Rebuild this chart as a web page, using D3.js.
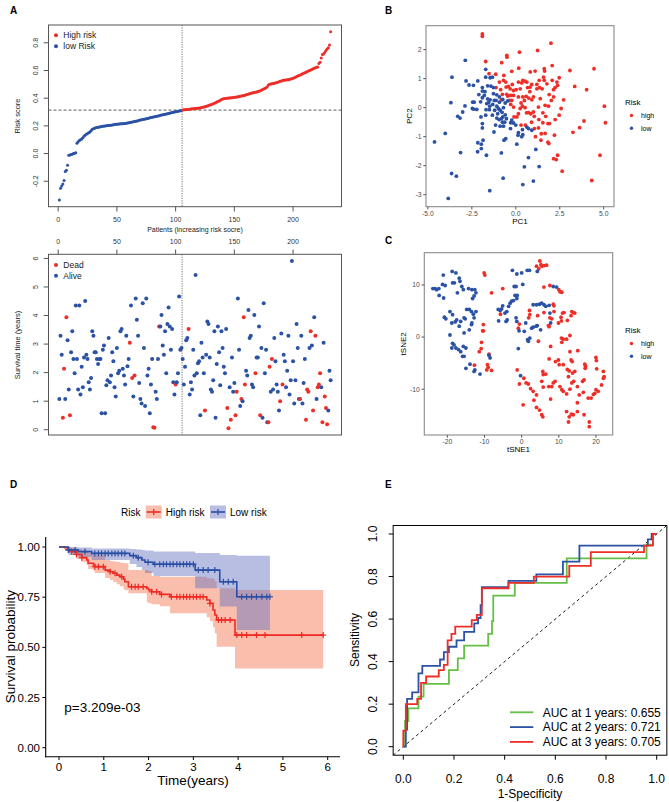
<!DOCTYPE html>
<meta charset="utf-8">
<head>
<style>
body { margin: 0; background: #fff; }
svg { display: block; font-family: "Liberation Sans", Arial, Helvetica, sans-serif; }
.plab { font-weight: bold; font-size: 10px; }
</style>
<script src="https://d3js.org/d3.v7.min.js"></script>
</head>
<body>
<svg width="669" height="802"></svg>
<script>

// ---- data: panel A (patients sorted by risk score) ----
var riskScore = [
-0.335,-0.25,-0.235,-0.22,-0.195,-0.13,-0.12,-0.085,-0.012,-0.01,
-0.007,-0.004,0.0,0.003,0.006,0.075,0.085,0.095,0.1,0.105,
0.115,0.125,0.135,0.14,0.145,0.15,0.155,0.165,0.175,0.18,
0.183,0.186,0.188,0.19,0.192,0.194,0.196,0.198,0.199,0.2,
0.201,0.202,0.203,0.204,0.205,0.207,0.208,0.21,0.211,0.212,
0.213,0.214,0.215,0.216,0.216,0.217,0.218,0.219,0.22,0.222,
0.224,0.226,0.228,0.23,0.232,0.234,0.236,0.238,0.24,0.242,
0.244,0.246,0.248,0.25,0.252,0.254,0.256,0.258,0.26,0.262,
0.264,0.266,0.268,0.27,0.272,0.274,0.276,0.278,0.28,0.282,
0.284,0.286,0.288,0.29,0.292,0.294,0.296,0.298,0.3,0.302,
0.304,0.306,0.308,0.31,0.312,
0.315,0.316,0.317,0.318,0.319,0.32,0.321,0.322,0.323,0.324,
0.325,0.326,0.327,0.328,0.329,0.33,0.332,0.334,0.336,0.338,
0.341,0.344,0.347,0.35,0.353,0.356,0.36,0.364,0.368,0.372,
0.376,0.38,0.385,0.39,0.394,0.396,0.398,0.399,0.4,0.401,
0.402,0.403,0.404,0.405,0.406,0.407,0.408,0.41,0.412,0.414,
0.416,0.418,0.42,0.422,0.424,0.427,0.43,0.432,0.435,0.437,
0.439,0.441,0.443,0.445,0.448,0.451,0.454,0.458,0.462,0.466,
0.47,0.476,0.482,0.496,0.5,0.502,0.504,0.506,0.508,0.51,
0.513,0.516,0.519,0.522,0.525,0.527,0.529,0.531,0.532,0.533,
0.534,0.536,0.538,0.54,0.544,0.548,0.552,0.556,0.56,0.564,
0.568,0.572,0.576,0.58,0.584,0.588,0.592,0.596,0.6,0.604,
0.608,0.612,0.616,0.62,0.624,0.626,0.65,0.66,0.69,0.715,
0.72,0.73,0.745,0.755,0.765,0.785,0.88];
var cutoff = 0.314;

var survTime = [
1.08,3.29,2.63,0.42,2.14,1.08,3.94,3.13,1.41,0.51,
2.71,3.45,2.48,1.98,4.35,2.48,1.41,4.35,1.23,2.21,
1.49,2.53,4.51,2.63,2.48,1.66,1.41,1.81,3.45,3.29,
2.71,2.71,2.48,2.3,2.48,2.48,0.58,2.8,2.95,0.58,
1.56,1.73,3.21,1.66,1.9,2.71,2.4,1.49,1.16,2.86,
1.98,2.07,3.45,3.53,2.14,1.9,1.58,3.29,2.22,2.48,
3.05,4.35,1.81,1.16,1.9,4.6,3.85,3.29,1.64,1.08,
0.92,4.43,2.86,0.83,4.6,1.9,2.14,0.58,1.58,2.48,
0.09,0.07,1.33,1.08,2.48,3.62,3.62,4.02,2.95,2.63,
3.45,1.98,3.7,4.28,3.62,2.8,3.53,1.66,1.23,1.58,
1.66,1.98,4.67,2.8,2.86,
2.48,1.58,2.21,3.13,3.21,3.53,1.23,1.66,1.41,2.8,
1.9,5.42,1.98,2.33,2.4,0.51,3.05,2.53,1.98,0.67,
2.63,3.79,3.7,2.53,1.41,1.33,1.73,3.45,0.42,2.3,
3.62,2.71,1.56,3.45,2.86,2.21,1.98,3.53,0.76,0.05,
1.49,0.35,2.53,1.33,1.64,0.51,1.33,4.6,2.8,0.83,
1.08,1.0,3.94,1.58,2.07,1.9,4.19,3.21,3.29,1.58,
1.49,4.02,1.98,2.53,2.53,3.62,0.51,2.86,0.42,4.43,
1.98,2.8,0.26,0.26,2.21,1.33,2.48,1.41,3.21,2.4,
1.58,1.33,0.67,1.0,3.37,1.58,2.63,2.4,1.49,2.07,
3.29,1.23,1.73,5.91,2.4,0.92,1.73,3.7,2.86,1.08,
1.08,3.29,0.92,1.64,2.48,0.35,1.41,1.33,2.86,3.45,
2.95,0.67,3.94,3.29,1.08,1.49,1.58,1.98,1.49,0.26,
3.05,1.16,0.76,0.19,0.67,2.07,1.73];

// 1 = dead, 0 = alive
var survStatus = [
0,0,0,1,1,0,1,0,0,1, 0,0,0,0,0,0,0,0,0,0, 0,0,0,0,0,0,0,0,0,0,
0,0,0,0,0,0,0,0,0,0, 0,0,0,0,0,0,0,0,0,0, 0,0,0,0,0,0,0,0,0,0,
1,0,1,0,1,0,0,0,0,0, 0,0,0,0,0,0,0,0,0,0, 1,1,0,0,0,1,0,0,0,0,
0,0,0,0,0,0,0,0,0,1, 0,0,0,0,0,
0,0,0,0,0,1,0,0,0,0, 0,0,0,0,0,0,0,0,0,1, 0,0,0,0,0,0,0,0,0,0,
0,0,0,0,0,0,0,0,1,1, 0,1,0,0,0,1,1,0,0,0, 1,0,1,1,0,0,0,0,0,0,
0,0,1,0,0,0,1,0,0,0, 0,0,0,1,1,0,1,0,0,0, 0,0,0,1,0,1,0,0,0,0,
0,0,0,0,0,0,0,0,0,0, 1,0,0,0,0,1,1,1,0,1, 0,1,0,1,0,1,1,1,0,1,
0,1,1,1,0,0,0];

// ---- data: panel B (PCA) ----
var pcaHigh = [
[-1.9,2.54],[-1.9,2.46],[-1.71,1.59],[-1.52,1.17],[-1.14,1.15],[-0.8,1.55],[-0.68,1.11],[-0.51,1.8],[-0.5,1.74],[-0.23,1.25],
[0.21,1.91],[0.17,1.36],[0.82,1.23],[1.1,1.26],[1.24,1.97],[1.62,1.34],[1.64,1.26],[2.0,2.22],[2.07,1.45],[2.47,1.03],
[3.08,1.28],[3.35,0.73],[4.03,0.62],[4.45,1.34],[5.04,0.05],[5.1,-0.52],[3.88,-0.46],[3.63,-0.69],[3.25,-0.85],[4.79,-1.64],
[4.32,-2.51],[2.64,-2.19],[2.38,-1.64],[2.3,-1.79],[2.15,-1.76],[1.88,-1.24],[1.83,-1.19],[1.67,-0.89],[1.43,-1.12],[1.12,-1.0],
[1.06,-0.72],[1.29,-0.7],[1.54,-0.52],[1.83,-0.55],[1.92,-0.55],[1.31,-0.41],[1.54,-0.18],[1.67,0.08],[2.02,0.25],[2.72,0.27],
[2.58,-0.03],[2.47,-0.26],[2.24,-0.41],[1.86,0.05],[2.15,0.37],[2.15,0.62],[2.24,0.69],[2.38,0.77],[2.34,0.88],[2.07,0.94],
[1.77,0.82],[1.5,0.65],[1.35,0.69],[1.2,0.65],[1.58,1.05],[1.62,0.94],[1.33,0.94],[1.2,0.8],[0.91,0.8],[0.82,0.71],
[0.67,0.69],[0.63,0.88],[0.53,0.91],[0.4,0.94],[0.34,0.85],[0.15,0.88],[0.25,0.65],[0.02,0.62],[-0.13,0.59],[-0.32,0.65],
[-0.42,0.73],[-0.57,0.88],[-0.7,0.94],[-0.86,0.62],[-0.76,0.46],[-0.51,0.46],[-0.29,0.42],[-0.13,0.42],[0.15,0.37],[0.4,0.37],
[0.49,0.25],[0.59,0.39],[0.74,0.33],[0.91,0.27],[1.0,0.37],[1.39,0.31],[1.29,0.02],[1.0,-0.15],[0.85,-0.21],[0.72,-0.17],
[0.61,-0.18],[0.53,0.0],[0.38,0.05],[0.25,-0.03],[0.15,-0.21],[0.06,-0.32],[-0.1,-0.32],[-0.13,0.02],[-0.29,0.11],[-0.23,0.25],
[-0.36,0.25],[-0.46,0.4],[-0.55,0.71],[-0.93,0.88],[-1.12,0.69],[-0.82,0.27],[0.3,0.16],[0.3,-0.6],[0.55,-0.6],[0.9,-0.5],
[1.05,-0.3],[1.45,-0.9],[2.2,-0.95],[1.7,-0.3],[0.8,0.55],[1.9,0.45],[-0.2,0.8]];
var pcaLow = [
[-2.87,1.63],[-3.63,1.05],[-3.69,0.17],[-4.62,-1.18],[-4.01,-0.89],[-3.65,-2.27],[-3.38,-2.36],[-3.84,-3.13],[-3.14,-1.55],[-3.17,-0.36],
[-3.02,-0.15],[-2.89,0.06],[-2.83,0.92],[-2.66,0.78],[-2.41,0.77],[-2.16,0.92],[-2.45,0.19],[-2.37,0.19],[-2.47,-0.03],[-2.22,-0.06],
[-2.16,-1.21],[-2.17,-1.52],[-1.96,-1.26],[-1.96,-1.41],[-1.98,-0.32],[-1.9,-0.55],[-1.9,-0.7],[-1.71,-0.26],[-1.71,1.05],[-1.71,1.32],
[-1.9,0.69],[-1.9,0.57],[-1.79,0.42],[-1.9,0.34],[-1.6,0.3],[-1.54,0.18],[-1.48,0.05],[-1.31,0.11],[-1.22,0.25],[-1.46,0.27],
[-1.65,0.14],[-1.69,-0.07],[-1.5,-0.07],[-1.33,-0.26],[-1.08,-0.36],[-0.95,-0.41],[-1.03,-0.21],[-0.89,-0.09],[-0.78,-0.16],[-0.74,-0.32],
[-0.82,-0.38],[-0.76,-0.5],[-0.63,-0.5],[-0.53,-0.38],[-0.7,0.0],[-0.6,0.16],[-0.46,0.23],[-0.74,0.28],[-0.93,0.19],[-1.12,0.25],
[-1.08,0.05],[-1.27,0.69],[-1.41,0.74],[-1.27,0.48],[-1.08,0.44],[-0.93,0.37],[-1.46,1.03],[-1.33,1.05],[-0.99,-0.03],[-1.2,-0.09],
[-1.24,-0.84],[-0.89,-0.64],[-0.7,-0.64],[-0.57,-1.07],[-0.67,-1.12],[-0.82,-1.56],[-0.72,-2.43],[0.06,-1.26],[0.15,-0.86],[0.13,-0.95],
[0.34,-1.0],[0.4,-0.93],[0.72,-0.72],[0.91,-0.78],[0.63,-0.67],[0.38,-0.76],[-0.23,-0.43],[-0.13,-0.53],[-0.3,-0.72],[-0.29,-0.52],
[0.0,-0.6],[0.49,-2.04],[0.4,-2.65],[1.0,-2.53],[1.33,-2.03],[0.72,-1.72],[1.14,-1.44],[-1.48,-2.86],[-1.67,-1.64],[-1.86,-1.12],
[-2.4,-0.05],[-3.3,-0.3],[-2.1,0.45],[-1.6,0.75],[-0.6,-0.25],[-1.15,-0.6],[-2.0,0.2],[-1.75,0.55]];

// ---- data: panel C (tSNE) ----
var tsneLow = [
[-23.9,9.3],[-23.3,9.3],[-22.9,9.1],[-22.3,9.3],[-21.3,10.1],[-21.1,11.9],[-20.6,9.9],[-22.2,8.0],[-21.0,7.5],[-18.7,12.6],
[-17.7,12.3],[-18.1,10.4],[-18.6,10.4],[-16.8,11.3],[-16.6,10.7],[-16.1,9.7],[-15.7,9.1],[-14.3,9.3],[-13.4,9.1],[-12.6,9.1],
[-12.3,8.5],[-12.8,7.9],[-13.2,7.4],[-17.3,8.5],
[-20.8,3.8],[-20.4,3.5],[-19.3,4.9],[-18.6,4.3],[-18.8,2.7],[-17.9,2.9],[-17.5,3.3],[-16.8,2.1],[-16.4,3.0],[-15.5,3.7],
[-15.2,3.5],[-14.8,5.3],[-14.1,5.3],[-13.5,4.9],[-13.0,4.4],[-12.8,3.7],[-12.3,4.9],[-13.4,2.7],[-14.1,1.4],[-15.5,0.8],
[-19.3,0.4],[-18.6,-1.2],[-18.2,-1.5],[-17.7,-2.1],[-17.0,-2.4],[-16.4,-2.8],[-15.9,-3.7],[-15.5,-3.7],[-15.0,-2.1],[-15.7,-1.8],
[-13.9,-5.2],[-15.0,-6.0],[-12.8,-6.6],[-12.6,-6.3],[-11.2,-7.1],[-8.5,-4.0],[-8.8,-3.5],[-18.8,-2.1],[-13.5,2.4],
[-6.3,5.3],[-5.8,5.1],[-5.1,6.0],[-5.4,5.4],[-4.5,4.6],[-4.2,3.0],[-3.9,3.3],[-6.2,3.1],[-4.0,4.9],[-3.5,5.9],
[-3.1,6.5],[-2.7,6.9],[-2.2,7.0],[-1.8,8.0],[-1.3,7.4],[-1.2,8.0],[-2.0,9.7],[-1.5,9.7],[0.3,10.1],[-2.5,12.8],
[-1.3,12.1],[0.0,12.3],[1.5,12.8],[2.1,12.8],[4.2,12.6],
[-1.5,3.7],[-1.3,3.0],[-0.7,1.2],[0.7,1.1],[1.1,2.7],[-0.9,-2.2],[-0.3,-7.4],[1.6,-0.5],[1.8,-0.8],[2.2,-0.2],
[2.7,1.7],[3.1,1.9],[3.9,2.1],[4.2,2.2],[5.1,1.4],[7.8,2.7],[4.0,6.2],[4.8,6.3],[5.4,6.5],[6.0,6.2],
[7.4,6.1],[7.6,4.6],[6.5,5.9],[8.5,9.7],[9.4,9.6],[3.1,6.2]];
var tsneHigh = [
[-10.1,12.3],[-9.9,11.9],[-8.1,8.5],[-5.1,9.3],[-5.7,4.4],[-0.6,2.5],[-0.9,1.7],[1.9,3.7],[2.2,4.3],[2.1,5.1],
[4.3,4.1],[6.0,9.6],[7.6,9.9],[10.0,9.1],[10.3,8.7],[10.8,8.6],[8.5,6.3],[8.7,6.0],[8.7,4.9],[7.6,3.7],
[7.2,2.2],[7.4,2.0],[6.0,4.7],[8.1,3.5],[11.0,4.6],[11.4,4.7],[13.5,4.9],[13.9,4.7],[14.3,4.6],[12.3,3.2],
[13.3,4.1],[10.6,3.8],[10.7,3.1],[9.9,2.7],[13.0,0.3],[10.7,-0.2],[11.2,-0.4],[12.1,-0.4],[10.8,-1.0],[7.8,-1.8],
[4.5,-0.8],[15.1,-2.6],[13.0,-2.8],[13.3,-4.4],[13.6,-4.7],[12.8,-6.5],[12.3,-6.2],[12.6,-7.6],[13.7,-6.9],[9.9,-4.4],
[9.1,-4.7],[7.4,-4.2],[10.3,-9.5],[11.2,-10.4],[10.8,-10.1],[12.1,-10.9],[13.0,-10.0],[13.5,-8.8],[14.0,-8.5],[15.5,-11.1],
[15.0,-12.6],[16.6,-10.6],[16.4,-8.5],[16.8,-8.2],[17.0,-5.2],[17.2,-5.6],[17.1,-6.0],[17.9,-11.7],[18.7,-11.7],[20.0,-3.9],
[20.1,-4.5],[20.2,-6.1],[20.0,-10.1],[19.7,-10.8],[19.3,-11.0],[20.6,-10.4],[21.5,-9.2],[22.0,-6.6],[22.2,-7.6],[22.0,-7.9],
[12.1,-14.3],[12.6,-16.3],[12.8,-15.3],[13.4,-14.8],[13.9,-14.9],[15.0,-14.3],[16.8,-14.9],[18.2,-16.3],[18.2,-17.2],[5.7,-6.6],
[5.8,-7.2],[5.4,-8.5],[5.8,-9.6],[5.4,-14.9],[5.7,-15.3],[4.8,-14.0],[4.0,-13.5],[4.0,-11.1],[3.3,-12.1],[3.1,-10.4],
[2.4,-9.9],[1.8,-9.0],[1.2,-8.8],[0.6,-7.9],[-1.2,-6.3],[-0.6,-9.0],[0.4,-13.0],[7.8,-11.9],[8.1,-9.5],[7.3,-9.5],
[8.5,-8.8],[9.0,-8.5],[10.1,-5.3],[11.2,-5.3],[15.0,-9.5],[14.3,-6.6],[-10.3,2.4],[-10.5,1.2],[-10.3,1.2],[-10.8,-1.0],
[-10.9,-2.2],[-11.4,-2.8],[-8.8,-3.3],[-9.2,-5.3],[-9.0,-5.8],[-9.4,-6.3],[-8.1,-6.4],[-12.7,-5.4],[4.9,14.6],[5.2,13.9],
[5.4,13.6],[6.0,13.7],[6.7,13.8],[4.0,13.6],[4.6,13.1],[6.5,-7.1]];

// ---- data: panel D (Kaplan-Meier) ----
var kmHighTime  = [0,0.13,0.21,0.28,0.39,0.51,0.62,0.65,0.77,0.80,1.03,1.14,1.21,1.29,1.36,1.44,1.47,1.55,1.96,2.0,2.07,2.25,2.48,3.30,3.37,3.44,3.48,3.52,3.93];
var kmHighSurv  = [1,0.997,0.985,0.977,0.963,0.947,0.935,0.919,0.91,0.902,0.885,0.877,0.869,0.86,0.852,0.84,0.827,0.802,0.794,0.786,0.777,0.764,0.752,0.736,0.719,0.686,0.661,0.636,0.561];
var kmHighLower = [1,0.985,0.97,0.96,0.94,0.925,0.91,0.89,0.88,0.87,0.845,0.835,0.825,0.815,0.805,0.79,0.785,0.77,0.725,0.72,0.715,0.705,0.67,0.65,0.63,0.6,0.57,0.503,0.395];
var kmHighUpper = [1,1,1,0.995,0.99,0.985,0.98,0.97,0.965,0.96,0.935,0.93,0.928,0.925,0.922,0.92,0.919,0.885,0.885,0.88,0.855,0.852,0.852,0.844,0.844,0.84,0.83,0.794,0.786];
var kmHighEnd = 5.9;
var kmHighCens = [0.21,0.28,0.39,0.51,0.80,0.88,0.99,1.14,1.25,1.40,1.62,1.70,1.77,1.88,2.07,2.18,2.29,2.51,2.63,2.70,2.78,2.85,2.92,3.0,3.07,3.15,3.22,3.37,3.56,3.63,3.71,3.82,3.97,4.08,4.19,4.41,4.60,5.42,5.90];

var kmLowTime  = [0,0.21,0.43,0.73,1.58,1.73,1.85,1.92,2.11,3.04,3.59,3.97];
var kmLowSurv  = [1,0.985,0.977,0.968,0.957,0.947,0.935,0.924,0.914,0.885,0.827,0.752];
var kmLowLower = [1,0.96,0.95,0.935,0.915,0.9,0.885,0.87,0.855,0.794,0.703,0.586];
var kmLowUpper = [1,1,0.997,0.993,0.99,0.988,0.985,0.982,0.978,0.97,0.96,0.957];
var kmLowEnd = 4.71;
var kmLowCens = [0.21,0.36,0.58,0.80,0.88,0.95,1.03,1.10,1.18,1.25,1.32,1.40,1.47,1.66,1.77,1.99,2.14,2.25,2.33,2.40,2.48,2.55,2.63,2.70,2.78,2.85,2.92,3.0,3.11,3.22,3.33,3.48,3.67,3.78,3.89,4.08,4.19,4.30,4.41,4.53,4.64,4.71];
var pValue = "p=3.209e-03";

// ---- data: panel E (time-dependent ROC, [1-specificity, sensitivity]) ----
var roc1 = [[0,0],[0.007,0.12],[0.02,0.18],[0.06,0.235],[0.08,0.295],[0.18,0.36],[0.215,0.415],[0.24,0.475],[0.335,0.53],[0.35,0.59],[0.355,0.71],[0.44,0.77],[0.645,0.885],[0.96,0.95],[0.985,1],[1,1]];
var roc2 = [[0,0],[0.01,0.08],[0.015,0.225],[0.035,0.255],[0.06,0.345],[0.075,0.38],[0.145,0.41],[0.16,0.445],[0.18,0.47],[0.21,0.5],[0.24,0.54],[0.28,0.58],[0.295,0.605],[0.305,0.665],[0.31,0.75],[0.415,0.78],[0.525,0.81],[0.63,0.87],[0.695,0.945],[0.965,0.975],[0.98,1],[1,1]];
var roc3 = [[0,0],[0,0.075],[0.01,0.2],[0.055,0.225],[0.07,0.3],[0.09,0.33],[0.14,0.36],[0.16,0.385],[0.175,0.5],[0.19,0.53],[0.205,0.565],[0.27,0.595],[0.29,0.62],[0.31,0.745],[0.415,0.77],[0.515,0.8],[0.655,0.85],[0.74,0.915],[0.95,0.945],[0.985,1],[1,1]];
var rocLabels = ["AUC at 1 years: 0.655", "AUC at 2 years: 0.721", "AUC at 3 years: 0.705"];

var red = "#EE2E27", blue = "#2B52A4", green = "#66BE48";
var svg = d3.select("svg");

function vtext(x, y, txt, size, color) {
  return svg.append("text")
    .attr("transform", "translate(" + x + "," + y + ") rotate(-90)")
    .attr("text-anchor", "middle").attr("dy", "0.35em")
    .attr("font-size", size).attr("fill", color || "#000").text(txt);
}
function htext(x, y, txt, size, anchor, color) {
  return svg.append("text").attr("x", x).attr("y", y).attr("dy", "0.35em")
    .attr("text-anchor", anchor || "middle")
    .attr("font-size", size).attr("fill", color || "#000").text(txt);
}

// ================= Panel A =================
var n = riskScore.length;
var nLow = riskScore.filter(function(v) { return v <= cutoff; }).length;
var pad = 0.04 * (n - 1);
var xA = d3.scaleLinear().domain([1 - pad, n + pad]).range([48.5, 341.5]);
var rExt = d3.extent(riskScore), rPad = 0.04 * (rExt[1] - rExt[0]);
var yA = d3.scaleLinear().domain([rExt[0] - rPad, rExt[1] + rPad]).range([206.7, 25]);
var tExt = d3.extent(survTime), tPad = 0.04 * (tExt[1] - tExt[0]);
var yS = d3.scaleLinear().domain([tExt[0] - tPad, tExt[1] + tPad]).range([435, 254.3]);

svg.append("text").attr("class", "plab").attr("x", 10).attr("y", 14).text("A");

// top: risk score
svg.append("line").attr("x1", 48.5).attr("x2", 341.5).attr("y1", yA(cutoff)).attr("y2", yA(cutoff))
  .attr("stroke", "#333").attr("stroke-dasharray", "3,2").attr("stroke-width", 0.8);
svg.append("line").attr("x1", xA(nLow + 0.5)).attr("x2", xA(nLow + 0.5)).attr("y1", 25).attr("y2", 206.7)
  .attr("stroke", "#777").attr("stroke-dasharray", "1.2,1.2").attr("stroke-width", 1);
svg.append("g").selectAll("circle").data(riskScore).enter().append("circle")
  .attr("cx", function(d, i) { return xA(i + 1); })
  .attr("cy", function(d) { return yA(d); })
  .attr("r", 1.5)
  .attr("fill", function(d, i) { return i < nLow ? blue : red; });
svg.append("rect").attr("x", 48.5).attr("y", 25).attr("width", 293).attr("height", 181.7)
  .attr("fill", "none").attr("stroke", "#555");

[0, 50, 100, 150, 200].forEach(function(t) {
  svg.append("line").attr("x1", xA(t)).attr("x2", xA(t)).attr("y1", 206.7).attr("y2", 211.5).attr("stroke", "#555");
  htext(xA(t), 220, t, 7, "middle", "#333");
  svg.append("line").attr("x1", xA(t)).attr("x2", xA(t)).attr("y1", 254.3).attr("y2", 249.5).attr("stroke", "#555");
  htext(xA(t), 242, t, 7, "middle", "#333");
});
[-0.2, 0, 0.2, 0.4, 0.6, 0.8].forEach(function(v) {
  svg.append("line").attr("x1", 48.5).attr("x2", 43.7).attr("y1", yA(v)).attr("y2", yA(v)).attr("stroke", "#555");
  vtext(35.3, yA(v), v.toFixed(1), 7, "#333");
});
htext(195, 230, "Patients (increasing risk socre)", 7, "middle", "#222");
vtext(17.3, 116, "Risk score", 7.5, "#222");

var legA = [["High risk", red], ["low Risk", blue]];
legA.forEach(function(l, i) {
  svg.append("circle").attr("cx", 56).attr("cy", 35.3 + i * 11).attr("r", 2).attr("fill", l[1]);
  htext(63.3, 35.3 + i * 11, l[0], 8.5, "start", "#222");
});

// bottom: survival time
svg.append("line").attr("x1", xA(nLow + 0.5)).attr("x2", xA(nLow + 0.5)).attr("y1", 254.3).attr("y2", 435)
  .attr("stroke", "#777").attr("stroke-dasharray", "1.2,1.2").attr("stroke-width", 1);
svg.append("g").selectAll("circle").data(survTime).enter().append("circle")
  .attr("cx", function(d, i) { return xA(i + 1); })
  .attr("cy", function(d) { return yS(d); })
  .attr("r", 2)
  .attr("fill", function(d, i) { return survStatus[i] === 1 ? red : blue; });
svg.append("rect").attr("x", 48.5).attr("y", 254.3).attr("width", 293).attr("height", 180.7)
  .attr("fill", "none").attr("stroke", "#555");
[0, 1, 2, 3, 4, 5, 6].forEach(function(v) {
  svg.append("line").attr("x1", 48.5).attr("x2", 43.7).attr("y1", yS(v)).attr("y2", yS(v)).attr("stroke", "#555");
  vtext(35.3, yS(v), v, 7, "#333");
});
vtext(17.3, 345, "Survival time (years)", 7.5, "#222");
var legS = [["Dead", red], ["Alive", blue]];
legS.forEach(function(l, i) {
  svg.append("circle").attr("cx", 56).attr("cy", 265 + i * 10.7).attr("r", 2).attr("fill", l[1]);
  htext(63.3, 265 + i * 10.7, l[0], 8.5, "start", "#222");
});

// ================= Panels B and C (ggplot style) =================
function expand(vals) {
  var e = d3.extent(vals), p = 0.05 * (e[1] - e[0]);
  return [e[0] - p, e[1] + p];
}
function scatterPanel(opt) {
  var all = opt.high.concat(opt.low);
  var x = d3.scaleLinear().domain(expand(all.map(function(d) { return d[0]; }))).range([opt.x0, opt.x1]);
  var y = d3.scaleLinear().domain(expand(all.map(function(d) { return d[1]; }))).range([opt.y1, opt.y0]);
  var g = svg.append("g");
  g.selectAll(".hi").data(opt.high).enter().append("circle")
    .attr("cx", function(d) { return x(d[0]); }).attr("cy", function(d) { return y(d[1]); })
    .attr("r", 1.9).attr("fill", red);
  g.selectAll(".lo").data(opt.low).enter().append("circle")
    .attr("cx", function(d) { return x(d[0]); }).attr("cy", function(d) { return y(d[1]); })
    .attr("r", 1.9).attr("fill", blue);
  svg.append("rect").attr("x", opt.x0).attr("y", opt.y0).attr("width", opt.x1 - opt.x0).attr("height", opt.y1 - opt.y0)
    .attr("fill", "none").attr("stroke", "#8a8a8a").attr("stroke-width", 1.1);
  opt.xt.forEach(function(t) {
    svg.append("line").attr("x1", x(t)).attr("x2", x(t)).attr("y1", opt.y1).attr("y2", opt.y1 + 2.7).attr("stroke", "#555");
    htext(x(t), opt.y1 + 6.5, opt.xfmt(t), 6.8, "middle", "#4d4d4d");
  });
  opt.yt.forEach(function(t) {
    svg.append("line").attr("x1", opt.x0).attr("x2", opt.x0 - 2.7).attr("y1", y(t)).attr("y2", y(t)).attr("stroke", "#555");
    htext(opt.x0 - 4.5, y(t), opt.yfmt(t), 6.8, "end", "#4d4d4d");
  });
  htext((opt.x0 + opt.x1) / 2, opt.y1 + 14.3, opt.xlab, 8, "middle");
  vtext(opt.ylabX, (opt.y0 + opt.y1) / 2, opt.ylab, 8);
  // legend
  htext(625, opt.legY, "Risk", 8, "start");
  [["high", red], ["low", blue]].forEach(function(l, i) {
    svg.append("circle").attr("cx", 631.5).attr("cy", opt.legY + 13.5 + i * 12.8).attr("r", 1.7).attr("fill", l[1]);
    htext(641, opt.legY + 13.5 + i * 12.8, l[0], 7, "start");
  });
  svg.append("text").attr("class", "plab").attr("x", 385).attr("y", opt.labY).text(opt.label);
}

scatterPanel({
  high: pcaHigh, low: pcaLow, x0: 426, x1: 614, y0: 25.7, y1: 206.7,
  xt: [-5, -2.5, 0, 2.5, 5], yt: [-3, -2, -1, 0, 1, 2],
  xfmt: function(t) { return t.toFixed(1); },
  yfmt: function(t) { return String(t); },
  xlab: "PC1", ylab: "PC2", ylabX: 409, legY: 102, labY: 14, label: "B"
});
scatterPanel({
  high: tsneHigh, low: tsneLow, x0: 424.3, x1: 612.7, y0: 252.7, y1: 435,
  xt: [-20, -10, 0, 10, 20], yt: [-10, 0, 10],
  xfmt: function(t) { return String(t); },
  yfmt: function(t) { return String(t); },
  xlab: "tSNE1", ylab: "tSNE2", ylabX: 403.3, legY: 330, labY: 244, label: "C"
});

// ================= Panel D (Kaplan-Meier) =================
svg.append("text").attr("class", "plab").attr("x", 10).attr("y", 488.3).text("D");
var xD = d3.scaleLinear().domain([0, 6]).range([59, 327.7]);
var yD = d3.scaleLinear().domain([0, 1]).range([747.7, 547]);

function kmSeries(time, surv, lower, upper, end, cens, lineCol, bandCol) {
  var pts = time.map(function(t, i) { return { t: t, s: surv[i], lo: lower[i], up: upper[i] }; });
  pts.push({ t: end, s: surv[surv.length - 1], lo: lower[lower.length - 1], up: upper[upper.length - 1] });
  var area = d3.area().curve(d3.curveStepAfter)
    .x(function(d) { return xD(d.t); }).y0(function(d) { return yD(d.lo); }).y1(function(d) { return yD(d.up); });
  var line = d3.line().curve(d3.curveStepAfter)
    .x(function(d) { return xD(d.t); }).y(function(d) { return yD(d.s); });
  return { pts: pts, area: area, line: line, cens: cens, time: time, surv: surv, lineCol: lineCol, bandCol: bandCol };
}
var kmH = kmSeries(kmHighTime, kmHighSurv, kmHighLower, kmHighUpper, kmHighEnd, kmHighCens, "#EE2A24", "rgba(242,110,70,0.45)");
var kmL = kmSeries(kmLowTime, kmLowSurv, kmLowLower, kmLowUpper, kmLowEnd, kmLowCens, "#2A4EA3", "rgba(95,110,190,0.45)");
[kmH, kmL].forEach(function(k) {
  svg.append("path").attr("d", k.area(k.pts)).attr("fill", k.bandCol);
});
[kmH, kmL].forEach(function(k) {
  svg.append("path").attr("d", k.line(k.pts)).attr("fill", "none").attr("stroke", k.lineCol).attr("stroke-width", 1.6);
  k.cens.forEach(function(t) {
    var s = k.surv[d3.bisectRight(k.time, t) - 1];
    svg.append("line").attr("x1", xD(t)).attr("x2", xD(t)).attr("y1", yD(s) - 3).attr("y2", yD(s) + 3)
      .attr("stroke", k.lineCol).attr("stroke-width", 1.2);
    svg.append("line").attr("x1", xD(t) - 3).attr("x2", xD(t) + 3).attr("y1", yD(s)).attr("y2", yD(s))
      .attr("stroke", k.lineCol).attr("stroke-width", 1.2);
  });
});
// axes
svg.append("line").attr("x1", 45.7).attr("x2", 45.7).attr("y1", 537).attr("y2", 757.3).attr("stroke", "#000").attr("stroke-width", 1.1);
svg.append("line").attr("x1", 45.1).attr("x2", 340).attr("y1", 756.7).attr("y2", 756.7).attr("stroke", "#000").attr("stroke-width", 1.1);
d3.range(0, 7).forEach(function(t) {
  svg.append("line").attr("x1", xD(t)).attr("x2", xD(t)).attr("y1", 756.7).attr("y2", 760).attr("stroke", "#000");
  htext(xD(t), 766.7, t, 11.5, "middle");
});
[0, 0.25, 0.5, 0.75, 1].forEach(function(v) {
  svg.append("line").attr("x1", 45.7).attr("x2", 42.4).attr("y1", yD(v)).attr("y2", yD(v)).attr("stroke", "#000");
  htext(40, yD(v), v.toFixed(2), 11.5, "end");
});
htext(193, 780.5, "Time(years)", 13.5, "middle");
vtext(10, 646.7, "Survival probability", 13.5);
htext(64.3, 707.3, pValue, 13.5, "start");
// legend
htext(121, 512, "Risk", 10, "start");
[[kmH, "High risk", 145.7], [kmL, "Low risk", 210]].forEach(function(l) {
  var k = l[0], x0 = l[2];
  svg.append("rect").attr("x", x0).attr("y", 505.5).attr("width", 16).attr("height", 13).attr("fill", k.bandCol);
  svg.append("line").attr("x1", x0 + 1).attr("x2", x0 + 15).attr("y1", 512).attr("y2", 512).attr("stroke", k.lineCol).attr("stroke-width", 1.6);
  svg.append("line").attr("x1", x0 + 8).attr("x2", x0 + 8).attr("y1", 509).attr("y2", 515).attr("stroke", k.lineCol).attr("stroke-width", 1.2);
  htext(x0 + 20, 512, l[1], 10, "start");
});

// ================= Panel E (ROC) =================
svg.append("text").attr("class", "plab").attr("x", 385).attr("y", 488.3).text("E");
var xE = d3.scaleLinear().domain([0, 1]).range([403.3, 656.7]);
var yE = d3.scaleLinear().domain([0, 1]).range([746.7, 534]);
var bx0 = xE(-0.04), bx1 = xE(1.04), by0 = yE(1.04), by1 = yE(-0.04);
svg.append("clipPath").attr("id", "clipE").append("rect")
  .attr("x", bx0).attr("y", by0).attr("width", bx1 - bx0).attr("height", by1 - by0);
svg.append("line").attr("clip-path", "url(#clipE)")
  .attr("x1", xE(-0.04)).attr("y1", yE(-0.04)).attr("x2", xE(1.04)).attr("y2", yE(1.04))
  .attr("stroke", "#000").attr("stroke-dasharray", "3,3").attr("stroke-width", 0.9);
var rocLine = d3.line().curve(d3.curveStepAfter)
  .x(function(d) { return xE(d[0]); }).y(function(d) { return yE(d[1]); });
var rocSets = [[roc1, green], [roc2, blue], [roc3, red]];
rocSets.forEach(function(r) {
  svg.append("path").attr("d", rocLine(r[0])).attr("fill", "none").attr("stroke", r[1]).attr("stroke-width", 1.8);
});
svg.append("rect").attr("x", bx0).attr("y", by0).attr("width", bx1 - bx0).attr("height", by1 - by0)
  .attr("fill", "none").attr("stroke", "#000").attr("stroke-width", 1);
[0, 0.2, 0.4, 0.6, 0.8, 1].forEach(function(v) {
  svg.append("line").attr("x1", xE(v)).attr("x2", xE(v)).attr("y1", by1).attr("y2", by1 + 4.5).attr("stroke", "#000");
  htext(xE(v), 778.3, v.toFixed(1), 12, "middle");
  svg.append("line").attr("x1", bx0).attr("x2", bx0 - 4.5).attr("y1", yE(v)).attr("y2", yE(v)).attr("stroke", "#000");
  vtext(373, yE(v), v.toFixed(1), 12);
});
htext(530, 793.3, "1-Specificity", 12, "middle");
vtext(355, 640, "Sensitivity", 12);
rocSets.forEach(function(r, i) {
  var yy = 712.3 + i * 14.8;
  svg.append("line").attr("x1", 510).attr("x2", 533.3).attr("y1", yy).attr("y2", yy).attr("stroke", r[1]).attr("stroke-width", 1.8);
  htext(542.7, yy, rocLabels[i], 12, "start");
});

</script>
</body>
